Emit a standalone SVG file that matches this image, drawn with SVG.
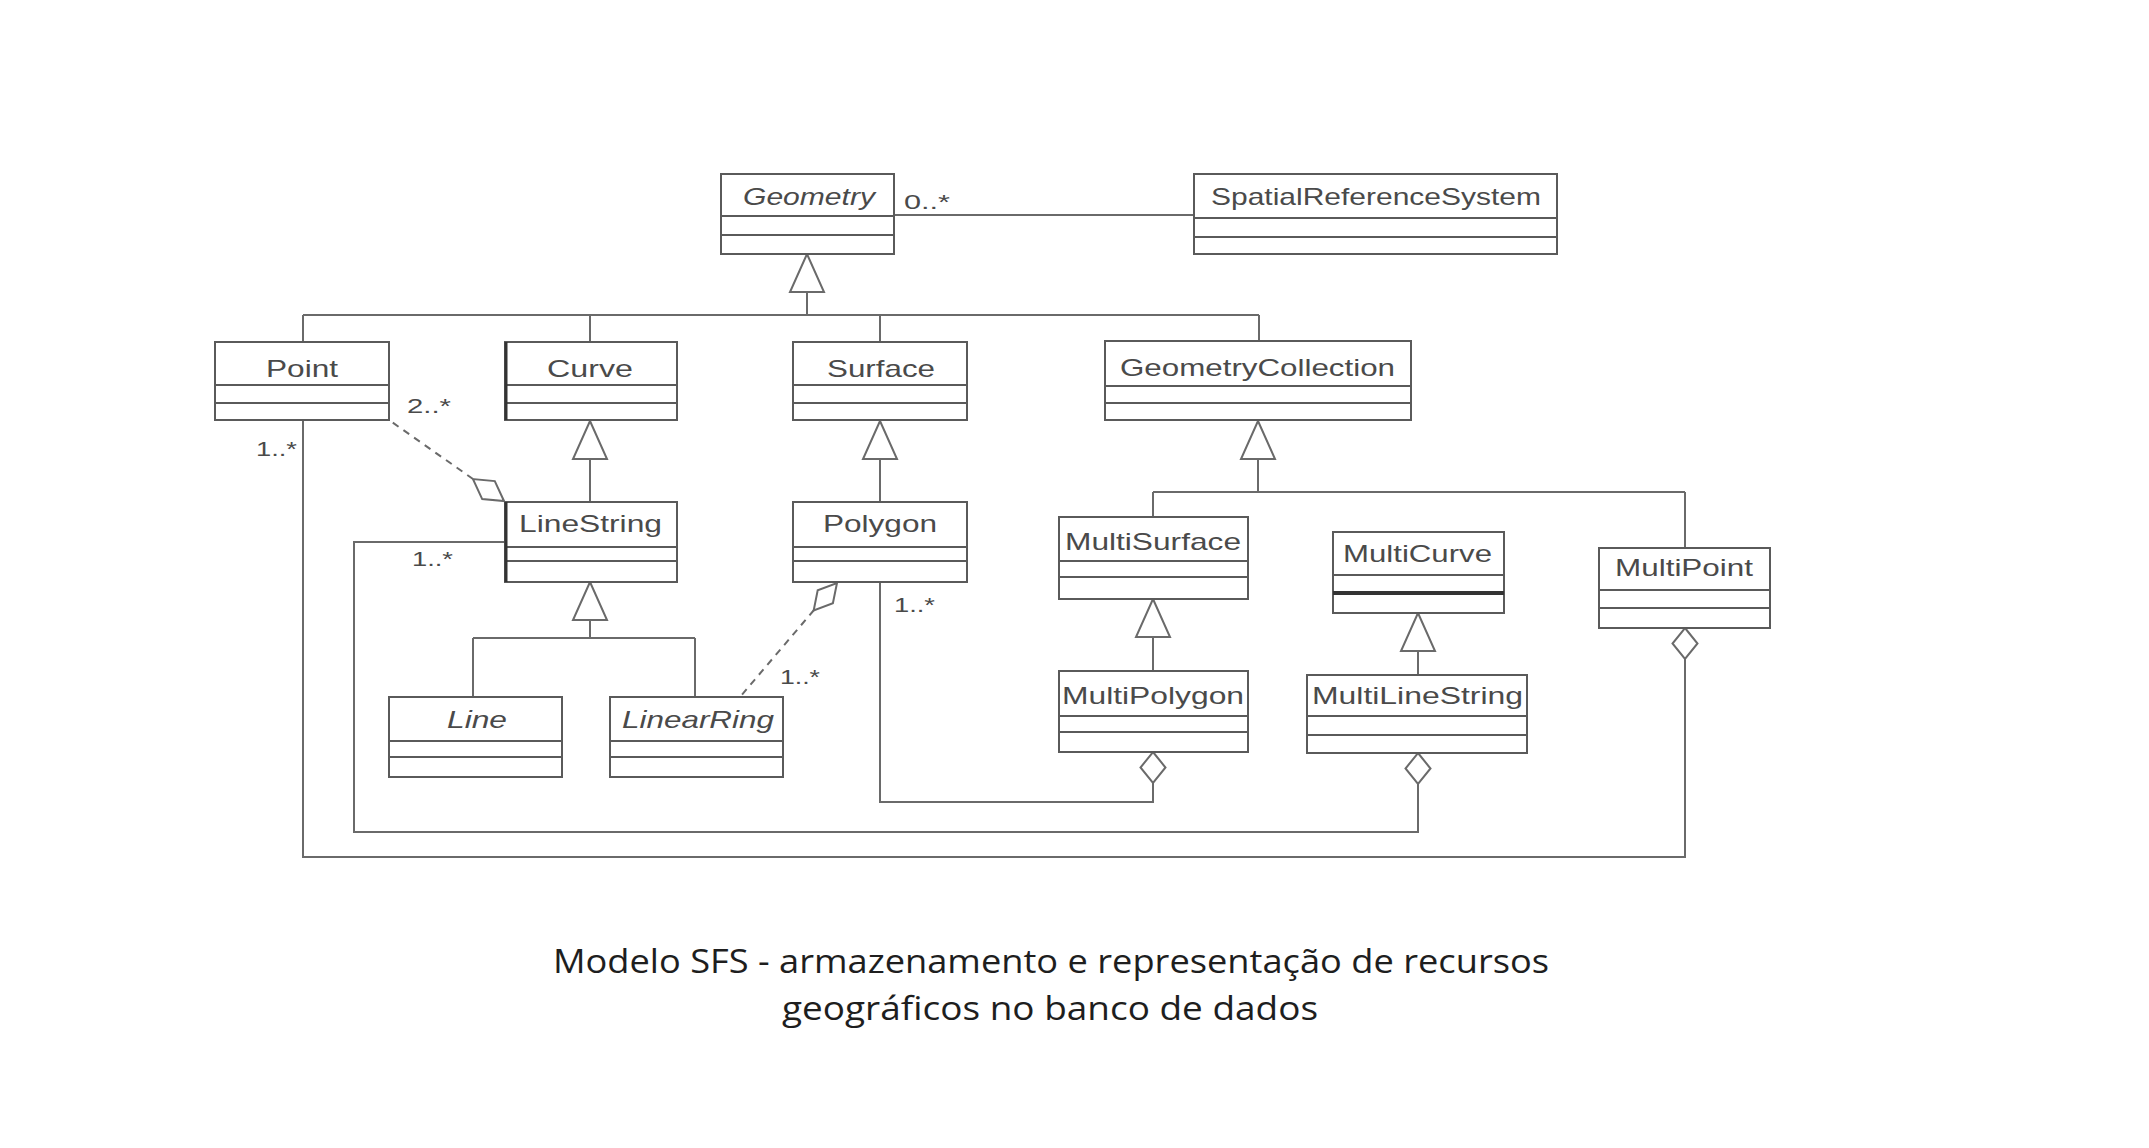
<svg xmlns="http://www.w3.org/2000/svg" xmlns:xlink="http://www.w3.org/1999/xlink" width="2149" height="1148" viewBox="0 0 2149 1148">
<style>
.box{fill:#fff;stroke:#5a5a5a;stroke-width:2}
.div{stroke:#5a5a5a;stroke-width:2}
.thick{stroke:#333;stroke-width:4}
.lbl{font-family:"Liberation Sans",Arial,sans-serif;font-size:24px;fill:#4a4a4a}
.it{font-style:italic}
.mul{font-family:"Liberation Sans",Arial,sans-serif;font-size:21px;fill:#4a4a4a}
.ln{fill:none;stroke:#6a6a6a;stroke-width:2}
.dash{fill:none;stroke:#6a6a6a;stroke-width:2;stroke-dasharray:7 6}
.head{fill:#fff;stroke:#6a6a6a;stroke-width:2;stroke-linejoin:miter}
.cap{font-family:"Open Sans","Noto Sans",sans-serif;font-size:32px;fill:#1e1e1e}
</style>
<defs>
<path id="tri" d="M0,0 L17,38 L-17,38 Z"/>
<path id="dia" d="M0,0 L12.5,15.5 L0,31 L-12.5,15.5 Z"/>
</defs>
<rect width="2149" height="1148" fill="#fff"/>
<g id="connectors">
<path class="ln" d="M894,215 H1194"/>
<path class="ln" d="M807,292 V315 M303,315 H1259 M303,315 V342 M590,315 V342 M880,315 V342 M1259,315 V341"/>
<path class="ln" d="M590,460 V502 M880,460 V502"/>
<path class="ln" d="M590,620 V638 M473,638 H695 M473,638 V697 M695,638 V697"/>
<path class="ln" d="M1258,459 V492 M1153,492 H1685 M1153,492 V517 M1685,492 V548"/>
<path class="ln" d="M1153,637 V671 M1418,651 V675"/>
<path class="ln" d="M1153,783 V802 H880 V582"/>
<path class="ln" d="M1418,784 V832 H354 V542 H505"/>
<path class="ln" d="M1685,658 V857 H303 V420"/>
<path class="dash" d="M473,479 L389,420"/>
<path class="dash" d="M814,610 L740,697"/>
<use href="#tri" class="head" x="807" y="254"/>
<use href="#tri" class="head" x="590" y="421"/>
<use href="#tri" class="head" x="880" y="421"/>
<use href="#tri" class="head" x="590" y="582"/>
<use href="#tri" class="head" x="1258" y="421"/>
<use href="#tri" class="head" x="1153" y="599"/>
<use href="#tri" class="head" x="1418" y="613"/>
<use href="#dia" class="head" x="1153" y="752"/>
<use href="#dia" class="head" x="1418" y="753"/>
<use href="#dia" class="head" x="1685" y="628"/>
<polygon class="head" points="504,501 494.8,481.1 473,479.1 482.2,499.1"/>
<polygon class="head" points="837,583 832.9,603.2 813.7,610.4 817.7,590.2"/>
<text class="mul" x="904" y="209" textLength="46" lengthAdjust="spacingAndGlyphs">0..*</text>
<text class="mul" x="407" y="413" textLength="44" lengthAdjust="spacingAndGlyphs">2..*</text>
<text class="mul" x="256" y="456" textLength="41" lengthAdjust="spacingAndGlyphs">1..*</text>
<text class="mul" x="412" y="566" textLength="41" lengthAdjust="spacingAndGlyphs">1..*</text>
<text class="mul" x="894" y="612" textLength="41" lengthAdjust="spacingAndGlyphs">1..*</text>
<text class="mul" x="780" y="684" textLength="40" lengthAdjust="spacingAndGlyphs">1..*</text>
</g>
<g id="Geometry">
<rect class="box" x="721" y="174" width="173" height="80"/>
<path class="div" d="M721,216 H894 M721,235 H894"/>
<text class="lbl it" x="743" y="205" textLength="132" lengthAdjust="spacingAndGlyphs">Geometry</text>
</g>
<g id="SpatialReferenceSystem">
<rect class="box" x="1194" y="174" width="363" height="80"/>
<path class="div" d="M1194,218 H1557 M1194,237 H1557"/>
<text class="lbl" x="1211" y="205" textLength="330" lengthAdjust="spacingAndGlyphs">SpatialReferenceSystem</text>
</g>
<g id="Point">
<rect class="box" x="215" y="342" width="174" height="78"/>
<path class="div" d="M215,385 H389 M215,403 H389"/>
<text class="lbl" x="266" y="377" textLength="72" lengthAdjust="spacingAndGlyphs">Point</text>
</g>
<g id="Curve">
<rect class="box" x="505" y="342" width="172" height="78"/>
<path class="div" d="M505,385 H677 M505,403 H677"/>
<path class="thick" d="M506,342 V420" style="stroke-width:3"/>
<text class="lbl" x="547" y="377" textLength="86" lengthAdjust="spacingAndGlyphs">Curve</text>
</g>
<g id="Surface">
<rect class="box" x="793" y="342" width="174" height="78"/>
<path class="div" d="M793,385 H967 M793,403 H967"/>
<text class="lbl" x="827" y="377" textLength="108" lengthAdjust="spacingAndGlyphs">Surface</text>
</g>
<g id="GeometryCollection">
<rect class="box" x="1105" y="341" width="306" height="79"/>
<path class="div" d="M1105,386 H1411 M1105,403 H1411"/>
<text class="lbl" x="1120" y="376" textLength="275" lengthAdjust="spacingAndGlyphs">GeometryCollection</text>
</g>
<g id="LineString">
<rect class="box" x="505" y="502" width="172" height="80"/>
<path class="div" d="M505,547 H677 M505,561 H677"/>
<path class="thick" d="M506,502 V582" style="stroke-width:3"/>
<text class="lbl" x="519" y="532" textLength="143" lengthAdjust="spacingAndGlyphs">LineString</text>
</g>
<g id="Polygon">
<rect class="box" x="793" y="502" width="174" height="80"/>
<path class="div" d="M793,547 H967 M793,561 H967"/>
<text class="lbl" x="823" y="532" textLength="114" lengthAdjust="spacingAndGlyphs">Polygon</text>
</g>
<g id="MultiSurface">
<rect class="box" x="1059" y="517" width="189" height="82"/>
<path class="div" d="M1059,561 H1248 M1059,577 H1248"/>
<text class="lbl" x="1065" y="550" textLength="176" lengthAdjust="spacingAndGlyphs">MultiSurface</text>
</g>
<g id="MultiCurve">
<rect class="box" x="1333" y="532" width="171" height="81"/>
<path class="div" d="M1333,575 H1504"/>
<path class="thick" d="M1333,593 H1504"/>
<text class="lbl" x="1343" y="562" textLength="149" lengthAdjust="spacingAndGlyphs">MultiCurve</text>
</g>
<g id="MultiPoint">
<rect class="box" x="1599" y="548" width="171" height="80"/>
<path class="div" d="M1599,590 H1770 M1599,608 H1770"/>
<text class="lbl" x="1615" y="576" textLength="138" lengthAdjust="spacingAndGlyphs">MultiPoint</text>
</g>
<g id="Line">
<rect class="box" x="389" y="697" width="173" height="80"/>
<path class="div" d="M389,741 H562 M389,757 H562"/>
<text class="lbl it" x="447" y="728" textLength="60" lengthAdjust="spacingAndGlyphs">Line</text>
</g>
<g id="LinearRing">
<rect class="box" x="610" y="697" width="173" height="80"/>
<path class="div" d="M610,741 H783 M610,757 H783"/>
<text class="lbl it" x="622" y="728" textLength="152" lengthAdjust="spacingAndGlyphs">LinearRing</text>
</g>
<g id="MultiPolygon">
<rect class="box" x="1059" y="671" width="189" height="81"/>
<path class="div" d="M1059,716 H1248 M1059,732 H1248"/>
<text class="lbl" x="1062" y="704" textLength="182" lengthAdjust="spacingAndGlyphs">MultiPolygon</text>
</g>
<g id="MultiLineString">
<rect class="box" x="1307" y="675" width="220" height="78"/>
<path class="div" d="M1307,716 H1527 M1307,735 H1527"/>
<text class="lbl" x="1312" y="704" textLength="211" lengthAdjust="spacingAndGlyphs">MultiLineString</text>
</g>
<g id="caption">
<text class="cap" x="553" y="973" textLength="996" lengthAdjust="spacingAndGlyphs">Modelo SFS - armazenamento e representação de recursos</text>
<text class="cap" x="782" y="1020" textLength="536" lengthAdjust="spacingAndGlyphs">geográficos no banco de dados</text>
</g>
</svg>
